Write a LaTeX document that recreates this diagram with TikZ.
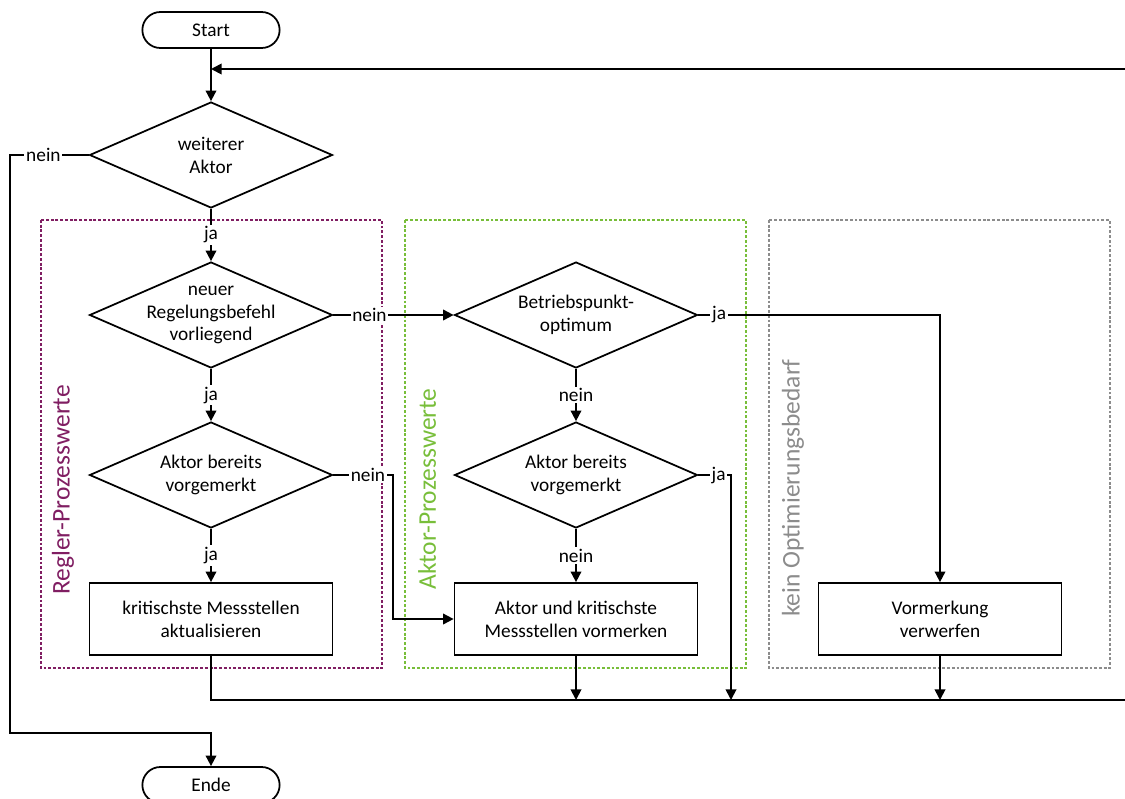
\documentclass[tikz,border=0pt]{standalone}
\usepackage{fontspec}
\setmainfont{Carlito}
\usetikzlibrary{shapes.geometric}
\usetikzlibrary{shapes.misc}
\usetikzlibrary{arrows.meta}
\usetikzlibrary{positioning}
\usetikzlibrary{calc}
\definecolor{regler}{RGB}{128,30,98}
\definecolor{aktor}{RGB}{120,190,58}
\definecolor{keinopt}{RGB}{140,140,140}

\begin{document}
\begin{tikzpicture}[x=0.02cm,y=-0.02cm,line width=1pt,>={Triangle[length=6pt,width=6pt]},
	font=\fontsize{11}{13}\selectfont,
	terminal/.style={draw,rounded rectangle,minimum width=2.98cm,minimum height=0.72cm},
	decision/.style={draw,diamond,aspect=2.3,inner sep=-12pt,minimum width=4.86cm,minimum height=2.12cm,align=center},
	process/.style={draw,rectangle,minimum width=4.86cm,minimum height=1.44cm,align=center},
	lbl/.style={fill=white,inner sep=1pt},
	group/.style={line width=0.7pt,dash pattern=on 1.6pt off 1.1pt},
	grouplabel/.style={rotate=90,font=\fontsize{14.5}{17}\selectfont}]
	\useasboundingbox (0,0) rectangle (1125,798);
	
	\draw[group,regler] (41,220) rectangle (382,668);
	\draw[group,aktor] (405,220) rectangle (746,668);
	\draw[group,keinopt] (769,220) rectangle (1110,668);
	\node[grouplabel,text=regler] (regler) at (63,490) {Regler-Prozesswerte};
	\node[grouplabel,text=aktor] (aktor) at (427,489) {Aktor-Prozesswerte};
	\node[grouplabel,text=keinopt] (keinopt) at (793,488) {kein Optimierungsbedarf};
	
	\node[terminal] (start) at (211,30) {Start};
	\node[decision] (weiter) at (211,155) {weiterer\\Aktor};
	\node[decision] (neuer) at (211,315) {neuer\\Regelungsbefehl\\vorliegend};
	\node[decision] (bereitsR) at (211,475) {Aktor bereits\\vorgemerkt};
	\node[process] (aktual) at (211,619) {kritischste Messstellen\\aktualisieren};
	\node[decision] (optimum) at (576,315) {Betriebspunkt-\\optimum};
	\node[decision] (bereitsA) at (576,475) {Aktor bereits\\vorgemerkt};
	\node[process] (vormerken) at (576,619) {Aktor und kritischste\\Messstellen vormerken};
	\node[process] (verwerfen) at (940,619) {Vormerkung\\verwerfen};
	\node[terminal] (ende) at (211,785) {Ende};
	
	\coordinate (rueck) at (1125,69);
	\coordinate (sammel) at (1125,700);
	
	\draw[->] (start) -- (weiter);
	\draw[->] (rueck) -- (start |- rueck);
	\draw[->] (weiter.west) -- node[lbl,pos=0.575] {nein} (10,155) -- (10,733) -| (ende.north);
	\draw[->] (weiter) -- node[lbl] {ja} (neuer);
	\draw[->] (neuer) -- node[lbl] {ja} (bereitsR);
	\draw[->] (bereitsR) -- node[lbl] {ja} (aktual);
	\draw[->] (neuer.east) -- node[lbl,pos=0.3] {nein} (optimum.west);
	\draw[->] (bereitsR.east) -- node[lbl,pos=0.58] {nein} (393,475) |- (vormerken.west);
	\draw[->] (optimum) -- node[lbl] {nein} (bereitsA);
	\draw[->] (bereitsA) -- node[lbl] {nein} (vormerken);
	\draw[->] (optimum.east) -- node[lbl,pos=0.086] {ja} (940,315) -- (verwerfen.north);
	\draw[->] (bereitsA.east) -- node[lbl,pos=0.62] {ja} (731,475) -- (731,700);
	\draw (aktual.south) |- (sammel);
	\draw[->] (vormerken.south) -- (576,700);
	\draw[->] (verwerfen.south) -- (940,700);
\end{tikzpicture}
\end{document}
